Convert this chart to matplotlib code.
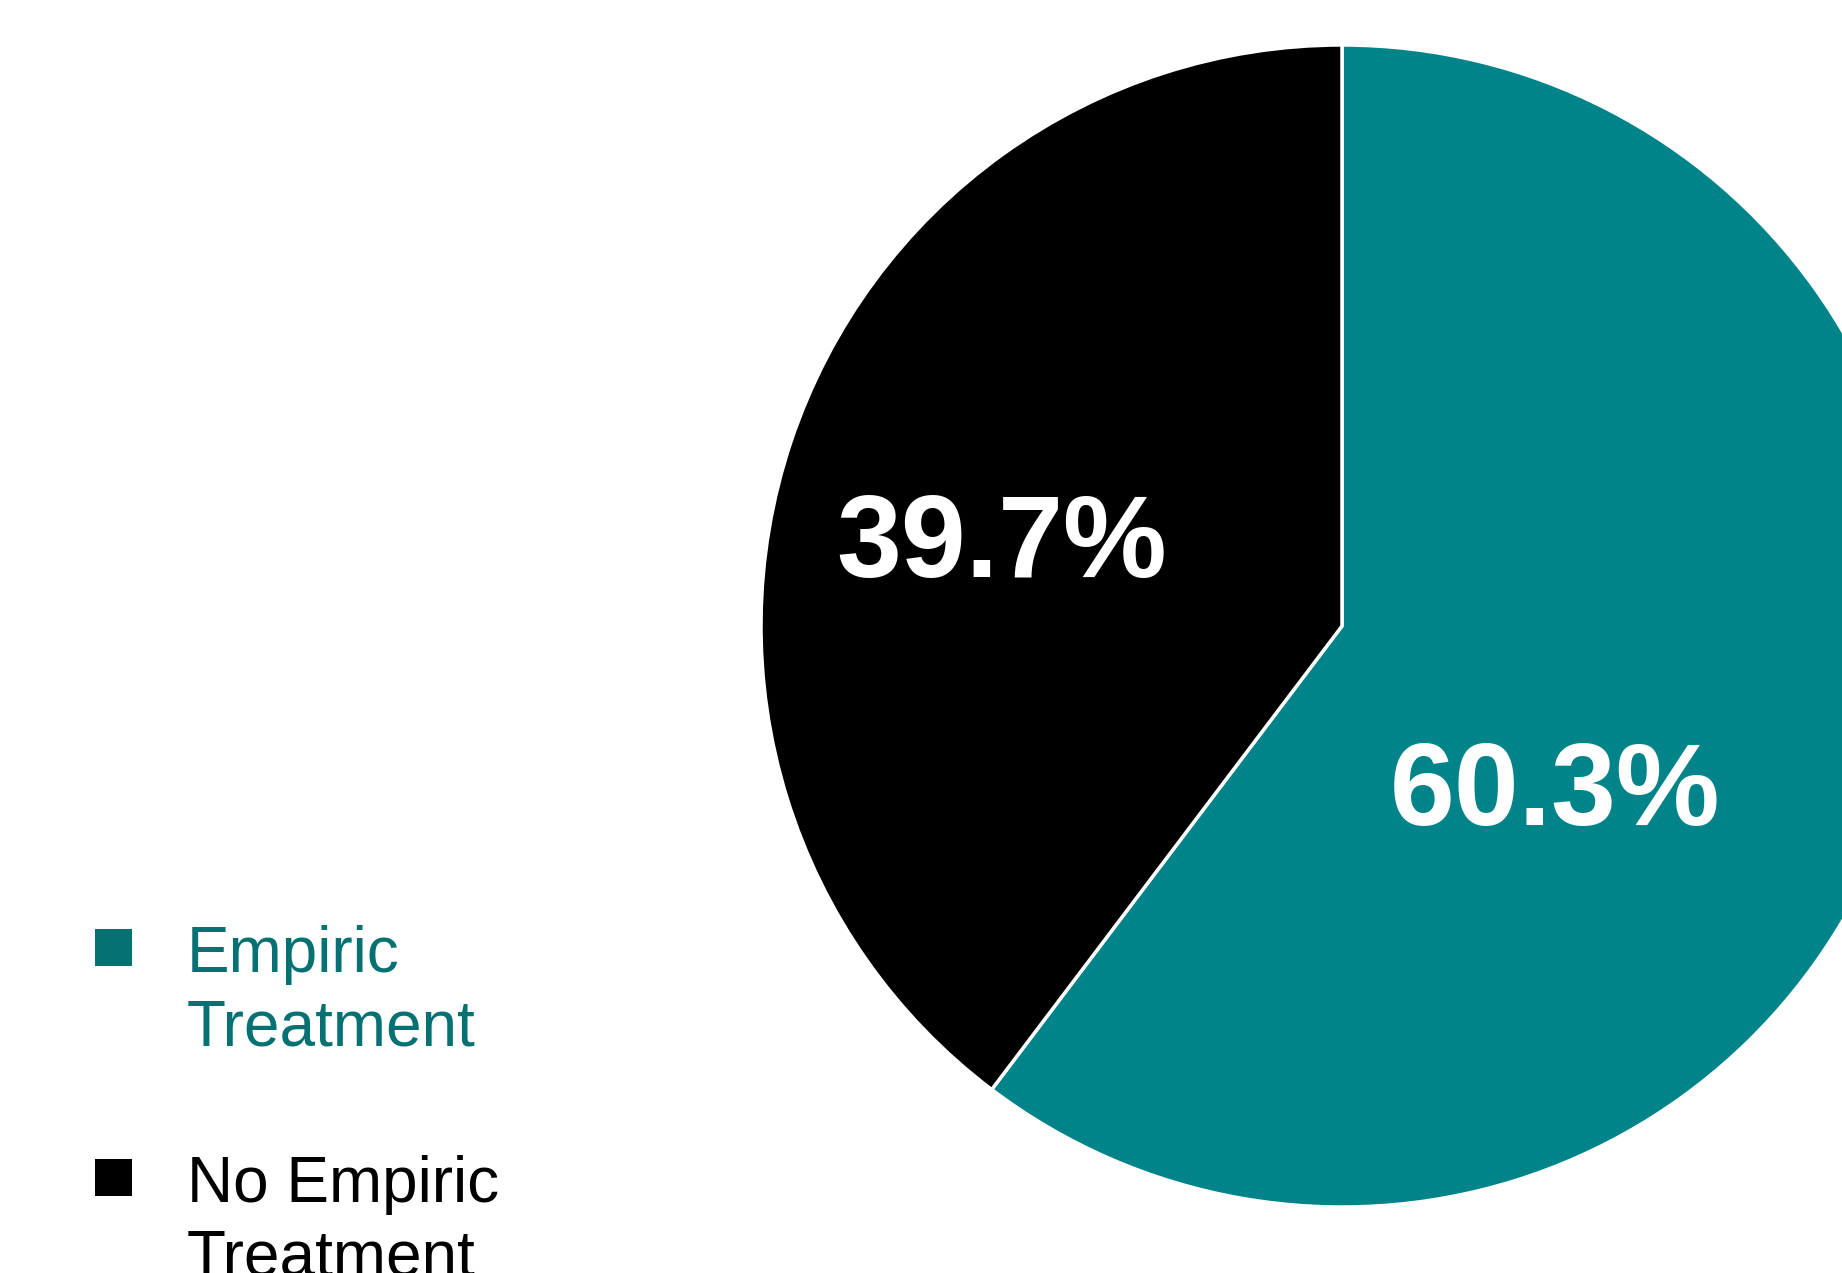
import matplotlib
matplotlib.use("Agg")
import matplotlib.pyplot as plt
from matplotlib.patches import Rectangle

# data
labels = ["Empiric\nTreatment", "No Empiric\nTreatment"]
values = [60.3, 39.7]
pie_colors = ["#008489", "#000000"]
legend_colors = ["#057172", "#000000"]

plt.rcParams['font.family'] = ['Liberation Sans', 'DejaVu Sans']

W, H = 1842, 1273
fig = plt.figure(figsize=(W / 100, H / 100), dpi=100)
ax = fig.add_axes([0, 0, 1, 1])

# pie, clockwise from the top
wedges, _ = ax.pie(values, colors=pie_colors, startangle=90, counterclock=False,
                   center=(1342, 647), radius=581, frame=True,
                   wedgeprops=dict(edgecolor='white', linewidth=2.5))
ax.set_xlim(0, W)
ax.set_ylim(0, H)
ax.set_aspect('equal')
ax.axis('off')

# percentage labels
label_pos = [(1555, 448), (1002, 696)]
for (x, y), v in zip(label_pos, values):
    ax.text(x, y, f"{v:.1f}%", fontsize=84, fontweight='bold', color='white',
            ha='center', va='baseline')

# legend (square at first line, text baseline given for last line)
square_y = [307, 77]
legend_y = [227, -3]
for sy, y, lab, c in zip(square_y, legend_y, labels, legend_colors):
    ax.add_patch(Rectangle((95, sy), 37, 37, facecolor=c, edgecolor='none'))
    ax.text(187, y, lab, fontsize=46, color=c, ha='left', va='baseline',
            linespacing=1.3)

fig.savefig("out.png", dpi=100, facecolor='white')
